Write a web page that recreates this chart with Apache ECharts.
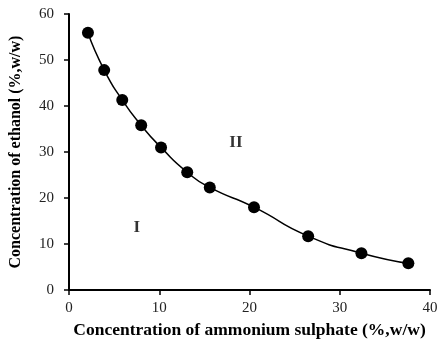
<!DOCTYPE html>
<html>
<head>
<meta charset="utf-8">
<script src="https://cdn.jsdelivr.net/npm/echarts@6/dist/echarts.min.js"></script>
<style>
  html, body { margin: 0; padding: 0; background: #fff; }
  #chart { width: 447px; height: 342px; }
</style>
</head>
<body>
<div id="chart"></div>
<script>
// binodal curve data
var sulphate = [2.1, 3.9, 5.9, 8.0, 10.2, 13.1, 15.6, 20.5, 26.5, 32.4, 37.6];
var ethanol = [55.9, 47.8, 41.3, 35.8, 31.0, 25.6, 22.3, 18.0, 11.7, 8.0, 5.8];

// region labels
var regionNames = ["I", "II"];
var regionX = [7.5, 18.5];
var regionY = [13.5, 32.1];

var myChart = echarts.init(document.getElementById("chart"));

var serif = "Liberation Serif";

var points = sulphate.map(function (x, i) { return [x, ethanol[i]]; });
var regions = regionNames.map(function (n, i) { return { name: n, value: [regionX[i], regionY[i]] }; });

var option = {
    animation: false,
    textStyle: { fontFamily: serif },
    grid: { left: 69, right: 17, top: 14, bottom: 52, containLabel: false, outerBoundsMode: "none" },
    xAxis: {
        type: "value",
        min: 0,
        max: 40,
        interval: 10,
        name: "Concentration of ammonium sulphate (%,w/w)",
        nameLocation: "middle",
        nameGap: 31,
        nameTextStyle: { fontFamily: serif, fontWeight: "bold", fontSize: 17.5, color: "#000" },
        axisLine: { lineStyle: { color: "#000", width: 2 } },
        axisTick: { show: true, length: 5, lineStyle: { color: "#000", width: 1.5 } },
        axisLabel: { fontFamily: serif, fontSize: 15, color: "#222", margin: 11 },
        splitLine: { show: false }
    },
    yAxis: {
        type: "value",
        min: 0,
        max: 60,
        interval: 10,
        name: "Concentration of ethanol (%,w/w)",
        nameLocation: "middle",
        nameGap: 45,
        nameTextStyle: { fontFamily: serif, fontWeight: "bold", fontSize: 16, color: "#000" },
        axisLine: { show: true, lineStyle: { color: "#000", width: 2 } },
        axisTick: { show: true, length: 5, lineStyle: { color: "#000", width: 1.5 } },
        axisLabel: { fontFamily: serif, fontSize: 15, color: "#222", margin: 15 },
        splitLine: { show: false }
    },
    series: [
        {
            type: "line",
            data: points,
            smooth: 0.6,
            symbol: "circle",
            symbolSize: 12,
            itemStyle: { color: "#000" },
            lineStyle: { color: "#000", width: 1.5 }
        },
        {
            type: "scatter",
            data: regions,
            symbolSize: 0,
            label: {
                show: true,
                position: "inside",
                formatter: "{b}",
                fontFamily: serif,
                fontWeight: "bold",
                fontSize: 17,
                color: "#000"
            }
        }
    ]
};

myChart.setOption(option);
</script>
</body>
</html>
